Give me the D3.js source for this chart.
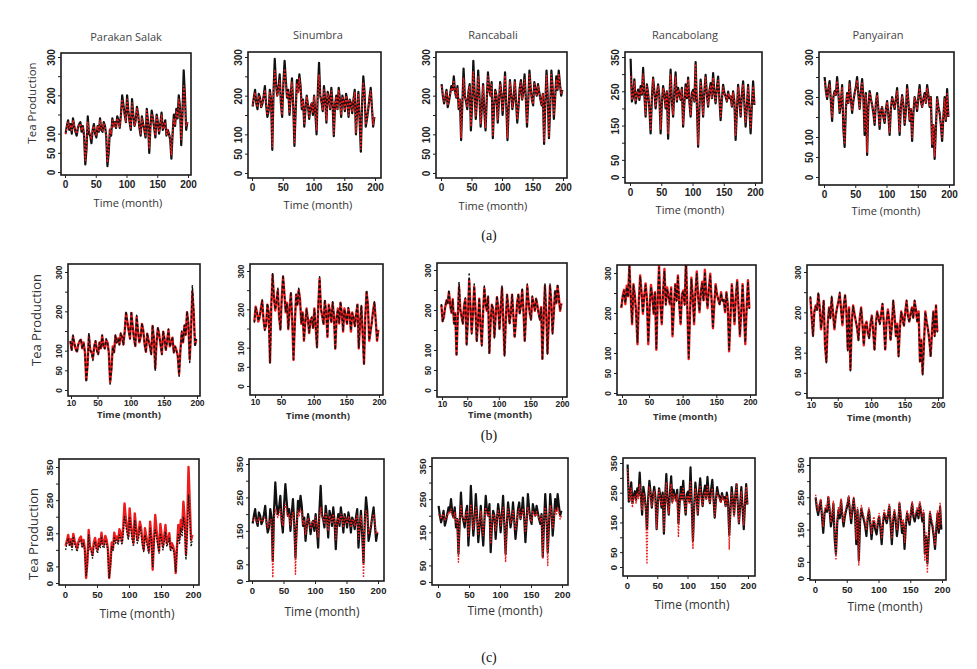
<!DOCTYPE html>
<html>
<head>
<meta charset="utf-8">
<script src="https://cdn.jsdelivr.net/npm/d3@7"></script>
<style>
  body { margin: 0; background: #fff; }
  svg { display: block; }
  .tick text { font-family: "Liberation Sans", Arial, sans-serif; font-weight: bold; fill: #222; }
  .tick line { stroke: #222; }
</style>
</head>
<body>
<div id="chart"></div>
<script>
// ---- data (one value every 2 months) ----
const sites = ['Parakan Salak', 'Sinumbra', 'Rancabali', 'Rancabolang', 'Panyairan'];
const rowLabels = ['(a)', '(b)', '(c)'];
const months = [1,3,5,7,9,11,13,15,17,19,21,23,25,27,29,31,33,35,37,39,41,43,45,47,49,51,53,55,57,59,61,63,65,67,69,71,73,75,77,79,81,83,85,87,89,91,93,95,97,99,101,103,105,107,109,111,113,115,117,119,121,123,125,127,129,131,133,135,137,139,141,143,145,147,149,151,153,155,157,159,161,163,165,167,169,171,173,175,177,179,181,183,185,187,189,191,193,195,197,199];
const xTicksAC = [0, 50, 100, 150, 200];
const xTicksB = [10, 50, 100, 150, 200];
const yTicks300 = [0, 50, 100, 150, 200, 250, 300];
const yLabels300 = [0, 50, 100, 200, 300];
const yTicks350 = [0, 50, 100, 150, 200, 250, 300, 350];
const yLabels350 = [0, 50, 150, 250, 350];

// actual tea production (black)
const psActual = [100,120,135,110,125,100,140,120,105,95, 115,125,130,105,120,95,20,60,145,100, 95,75,110,125,100,90,120,105,140,110, 105,130,120,95,15,50,110,95,140,120, 130,115,145,135,115,150,200,175,150,130, 200,160,130,110,190,150,120,135,170,150, 115,95,145,125,110,90,165,130,50,120, 160,140,115,90,150,130,100,125,155,110, 120,135,95,110,100,85,35,100,150,120, 165,140,200,170,70,150,265,200,110,130];
const snActual = [172,195,215,180,165,205,195,170,180,200, 225,175,145,160,215,190,60,210,295,230, 200,220,255,180,145,230,290,240,195,215, 150,200,245,175,70,160,240,210,255,225, 165,190,120,165,200,175,140,170,180,150, 200,155,100,210,285,200,185,160,225,190, 130,210,195,165,220,180,95,175,200,165, 220,190,145,200,185,160,205,185,145,190, 180,155,190,215,100,165,210,135,55,180, 250,210,120,140,165,195,220,170,120,145];
const rbActual = [230,200,180,195,215,170,185,205,225,215, 250,210,195,225,165,190,85,180,270,200, 185,165,210,230,110,175,290,210,140,190, 265,200,120,170,230,160,110,190,260,215, 200,235,90,170,215,200,130,185,235,205, 150,200,260,175,85,170,240,205,165,190, 240,185,130,170,220,240,190,210,255,195, 120,185,265,220,190,175,235,215,200,230, 210,190,175,205,75,180,265,195,90,170, 265,220,140,190,250,215,265,230,200,215];
const rgActual = [345,220,235,285,215,240,255,225,265,240, 318,240,176,270,244,200,127,230,290,250, 200,240,270,235,127,215,265,240,200,250, 112,230,313,220,176,250,305,220,260,240, 225,260,147,215,270,230,290,220,176,245, 254,220,335,210,88,200,284,240,176,250, 298,240,205,250,274,230,303,245,215,260, 293,230,166,225,269,245,235,220,249,230, 235,205,250,220,108,190,269,225,176,240, 279,215,147,205,269,200,127,210,279,210];
const pyActual = [250,215,195,220,240,190,140,200,215,205, 250,210,160,185,230,120,75,170,210,185, 240,195,160,190,210,225,250,205,170,215, 245,200,105,210,55,175,215,195,180,160, 130,185,210,170,120,165,175,150,135,170, 190,155,105,170,200,185,170,195,222,170, 105,175,205,180,130,165,230,190,140,170, 90,160,200,185,165,200,230,190,175,195, 210,185,230,205,175,200,75,130,45,120, 200,175,160,130,90,150,200,140,220,150];

// model output (red), row (a)
const psPredA = [98,118,130,115,122,105,135,122,108,100, 118,122,126,108,118,100,30,70,130,105, 100,85,112,120,104,95,118,108,135,112, 108,126,118,100,25,60,112,100,135,118, 128,118,140,132,118,145,190,170,148,132, 190,158,132,115,180,148,122,132,165,148, 118,100,140,122,112,95,160,128,60,118, 152,138,118,95,145,128,104,122,150,112, 118,130,98,110,102,90,45,105,140,122, 160,140,190,165,85,150,225,195,120,128];
const snPredA = [175,192,208,182,170,200,192,172,182,198, 215,178,150,165,208,188,68,205,265,225, 198,215,240,182,150,225,270,232,195,212, 155,198,235,178,78,165,232,208,245,220, 168,188,125,168,198,176,145,170,180,155, 198,158,110,205,255,198,183,162,215,188, 135,205,193,168,212,180,100,176,198,166, 215,188,150,198,183,162,200,184,150,188, 178,158,188,208,105,166,205,140,62,178, 235,205,125,145,168,192,212,170,125,148];
const rbPredA = [225,202,185,195,210,175,188,203,220,212, 240,208,197,220,170,190,92,182,245,202, 188,170,208,225,120,178,262,208,148,190, 248,200,128,172,225,165,118,190,250,212, 202,228,98,172,210,200,138,186,230,205, 158,200,252,178,92,172,235,205,170,190, 235,188,138,172,215,235,192,208,242,198, 128,186,255,218,190,178,230,214,202,226, 208,190,178,204,82,180,252,196,96,172, 255,218,148,190,242,215,255,228,205,212];
const rgPredA = [295,225,240,280,220,242,250,228,260,242, 300,238,182,265,242,205,135,232,285,248, 205,238,265,235,138,218,258,238,205,248, 125,230,298,222,182,248,292,222,255,240, 228,255,152,218,265,232,285,222,180,242, 250,222,330,212,95,205,275,238,182,248, 290,238,210,248,268,232,290,242,220,258, 282,230,172,228,262,242,238,222,245,232, 238,208,245,222,120,195,262,225,180,238, 270,218,160,208,262,205,140,212,265,212];
const pyPredA = [240,212,198,218,232,192,148,200,212,205, 240,208,165,186,225,125,82,172,208,186, 232,196,165,190,208,222,242,205,172,212, 238,200,112,205,62,176,212,195,180,162, 136,185,205,170,126,166,175,152,140,170, 188,158,112,172,198,185,172,195,215,172, 112,176,202,180,136,166,222,190,145,170, 98,162,198,185,168,198,222,190,176,195, 205,186,222,204,176,198,82,132,52,122, 195,175,160,132,98,152,195,142,208,152];

// model output (red), row (b)
const psPredB = [102,122,133,112,124,102,137,118,104,98, 116,124,128,106,121,97,25,65,138,102, 97,80,111,124,102,92,121,106,138,111, 106,128,121,97,20,55,111,97,138,121, 131,116,143,133,116,148,196,173,151,131, 196,162,131,112,186,151,121,134,168,151, 116,97,143,126,111,92,163,131,55,121, 157,141,116,92,148,131,102,126,153,111, 121,133,96,111,101,87,40,102,146,121, 163,141,198,168,78,151,250,198,115,129];
const snPredB = [170,197,212,178,168,207,193,168,178,202, 222,173,148,158,212,192,62,212,290,232, 197,222,250,178,148,232,285,242,192,217, 148,202,242,172,68,162,237,212,250,227, 162,192,118,167,202,173,138,172,178,152, 202,153,102,212,280,202,182,162,222,192, 128,212,192,167,217,182,97,177,202,163, 217,192,142,202,182,162,202,187,142,192, 177,157,187,212,98,167,207,137,58,182, 245,212,118,142,167,197,217,172,118,147];
const rbPredB = [232,198,182,197,213,172,183,207,223,217, 245,212,193,227,167,192,88,182,258,202, 183,167,212,228,115,177,275,212,143,192, 258,202,123,172,228,162,113,192,255,217, 198,232,93,172,213,202,133,187,232,207, 153,202,256,177,88,172,238,207,167,192, 238,187,133,172,218,238,192,212,250,197, 123,187,260,222,192,177,232,217,198,228, 212,192,177,207,78,182,260,197,92,172, 260,222,143,192,246,217,260,232,198,217];
const rgPredB = [310,222,238,290,212,242,258,222,268,242, 320,238,172,272,246,198,122,232,294,252, 198,242,274,236,122,212,270,242,198,252, 108,232,318,222,172,252,310,222,264,242, 222,264,142,212,272,232,294,222,172,247, 256,222,338,212,85,198,288,242,172,252, 304,242,202,252,278,232,308,247,212,262, 298,232,162,222,272,247,232,222,252,232, 232,202,252,222,104,187,272,227,172,242, 282,212,142,202,272,198,122,212,282,212];
const pyPredB = [245,217,193,222,237,188,143,202,217,207, 245,212,158,187,228,118,78,172,212,187, 236,197,158,192,212,227,246,207,168,217, 242,202,108,212,58,177,217,197,178,162, 132,187,212,172,118,167,177,148,137,172, 192,153,108,172,202,187,172,197,220,172, 108,177,207,182,132,167,228,192,142,172, 92,162,202,187,167,202,228,192,177,197, 212,187,228,207,177,202,78,132,48,122, 202,177,158,132,92,152,202,142,217,152];

// model output (red), row (c)
const psPredC = [112,128,145,118,132,110,148,128,115,104, 125,135,140,112,130,104,15,65,160,110, 104,85,122,136,110,100,132,115,152,120, 115,142,130,104,15,58,122,104,152,130, 140,125,162,150,125,170,240,195,165,140, 225,178,145,120,210,170,130,150,185,165, 125,100,165,140,120,96,185,140,40,130, 205,160,125,96,178,145,110,140,175,120, 130,150,104,120,110,92,30,110,175,135, 190,160,245,195,85,180,350,240,130,145];
const snPredC = [180,185,190,178,175,190,185,178,180,188, 190,176,160,168,185,182,10,180,215,200, 190,200,215,185,165,205,230,210,190,200, 165,188,205,180,20,170,210,195,215,205, 170,182,140,170,188,178,155,175,180,165, 190,165,130,190,220,192,185,170,205,185, 150,195,190,172,200,182,120,180,190,175, 200,188,160,192,185,172,192,185,160,185, 180,165,185,195,125,170,195,150,10,180, 210,195,140,155,170,188,200,178,140,150];
const rbPredC = [205,198,190,200,205,185,192,200,210,205, 220,200,195,210,180,192,60,188,230,200, 190,180,205,215,135,185,235,205,160,192, 225,198,145,180,215,175,140,192,225,205, 198,215,115,180,205,198,155,190,215,200, 170,198,225,185,60,180,220,200,178,192, 215,190,155,180,210,220,192,205,222,195, 150,190,225,208,190,182,215,205,198,212, 200,192,185,200,70,188,225,195,50,182, 230,210,160,192,220,205,225,212,190,200];
const rgPredC = [330,250,220,265,200,235,240,215,250,230, 280,225,190,250,235,205,10,215,270,240, 205,230,255,225,130,210,260,230,205,240, 120,220,285,215,180,240,280,215,245,235, 220,245,100,210,250,225,265,215,180,235, 240,215,290,205,60,195,265,230,180,240, 270,230,205,240,255,225,275,235,215,245, 265,225,170,220,250,235,230,215,240,225, 230,205,240,215,60,190,250,220,170,235, 280,215,150,205,255,200,140,215,270,210];
const pyPredC = [258,222,208,230,245,202,158,212,225,214, 255,220,172,198,238,138,55,182,220,198, 245,205,172,200,220,232,255,214,182,225, 250,210,118,218,40,188,225,205,190,172, 148,195,218,182,138,178,190,162,152,182, 200,168,122,182,210,195,182,205,232,182, 122,188,215,195,148,178,238,200,158,182, 108,172,210,195,178,210,238,200,190,205, 220,195,238,215,190,210,55,140,15,130, 210,190,172,142,100,162,210,152,232,162];

const actuals = [psActual, snActual, rbActual, rgActual, pyActual];
const preds = [
  [psPredA, snPredA, rbPredA, rgPredA, pyPredA],
  [psPredB, snPredB, rbPredB, rgPredB, pyPredB],
  [psPredC, snPredC, rbPredC, rgPredC, pyPredC]
];

// ---- layout (pixels in the 977x669 picture) ----
// box: [x0, y0, x1, y1]; xr: pixel of first tick and of 200; yr: pixel of 0 and of yTop
const panelBoxes = [
  [
    {box: [61, 53, 191, 175],  xr: [65, 188],  yr: [172, 57], yTop: 300},
    {box: [248, 52, 381, 178], xr: [252, 375], yr: [173, 57], yTop: 300},
    {box: [436, 52, 567, 178], xr: [441, 563], yr: [173, 57], yTop: 300},
    {box: [625, 52, 762, 183], xr: [630, 755], yr: [177, 57], yTop: 350},
    {box: [819, 52, 954, 185], xr: [824, 949], yr: [177, 57], yTop: 300}
  ],
  [
    {box: [68, 264, 200, 396],  xr: [71, 197],  yr: [390, 272], yTop: 300},
    {box: [250, 264, 383, 395], xr: [255, 379], yr: [386, 271], yTop: 300},
    {box: [437, 263, 567, 397], xr: [442, 562], yr: [390, 270], yTop: 300},
    {box: [617, 265, 756, 395], xr: [622, 750], yr: [393, 273], yTop: 300},
    {box: [807, 265, 943, 398], xr: [811, 938], yr: [393, 272], yTop: 300}
  ],
  [
    {box: [59, 459, 199, 585],  xr: [65, 193],  yr: [583, 467], yTop: 350},
    {box: [249, 459, 384, 581], xr: [252, 378], yr: [581, 464], yTop: 350},
    {box: [432, 458, 568, 585], xr: [438, 562], yr: [582, 466], yTop: 350},
    {box: [623, 458, 755, 576], xr: [627, 748], yr: [567, 463], yTop: 350},
    {box: [810, 458, 946, 580], xr: [815, 942], yr: [578, 465], yTop: 350}
  ]
];
const titlePos = [[126, 41], [318, 39], [493, 39], [685, 39], [878, 39]];
const timePos = [
  [[128, 207], [318, 209], [493, 210], [690, 214], [886, 215]],
  [[129, 418], [318, 419], [500, 418], [685, 420], [879, 421]],
  [[137, 618], [322, 616], [505, 615], [692, 609], [885, 611]]
];
const yTitlePos = [[32, 103, 11.5], [36, 320, 13], [33, 534, 13]];
const rowLabelPos = [[489, 240], [489, 440], [489, 662]];
const tickFont = [10, 8.5, 9.5];

const BLACK = '#111';
const RED = '#ec1c1c';
// line styles per row: drawn in order (first = underneath)
const rowStyles = [
  [{s: 'actual', c: BLACK, w: 2.2, d: null}, {s: 'pred', c: RED, w: 1.5, d: '2,1.6'}],
  [{s: 'pred', c: RED, w: 2.4, d: null}, {s: 'actual', c: BLACK, w: 1.5, d: '3,2'}],
  [{s: 'actual', c: BLACK, w: 2.2, d: null}, {s: 'pred', c: RED, w: 1.4, d: '1.6,1.4'}]
];
const firstColC = [{s: 'pred', c: RED, w: 2.4, d: null}, {s: 'actual', c: BLACK, w: 1.4, d: '1.5,1.5'}];

const svg = d3.select('#chart').append('svg')
  .attr('width', 977)
  .attr('height', 669);

function drawPanel(row, col) {
  const p = panelBoxes[row][col];
  const [bx0, by0, bx1, by1] = p.box;
  const xTicks = row === 1 ? xTicksB : xTicksAC;
  const xScale = d3.scaleLinear().domain([xTicks[0], 200]).range(p.xr);
  const yScale = d3.scaleLinear().domain([0, p.yTop]).range(p.yr);

  const clipId = `clip-${row}-${col}`;
  svg.append('clipPath').attr('id', clipId)
    .append('rect')
    .attr('x', bx0).attr('y', by0)
    .attr('width', bx1 - bx0).attr('height', by1 - by0);

  // row (b) starts at month 9
  const toPoints = arr => months
    .map((m, i) => ({month: m, value: arr[i]}))
    .filter(d => d.month >= xTicks[0] - 1);

  const lineGenerator = d3.line()
    .x(d => xScale(d.month))
    .y(d => yScale(d.value));

  const styles = (row === 2 && col === 0) ? firstColC : rowStyles[row];
  const lines = svg.append('g').attr('clip-path', `url(#${clipId})`);
  styles.forEach(st => {
    const data = st.s === 'actual' ? actuals[col] : preds[row][col];
    lines.append('path')
      .datum(toPoints(data))
      .attr('fill', 'none')
      .attr('stroke', st.c)
      .attr('stroke-width', st.w)
      .attr('stroke-linejoin', 'round')
      .attr('stroke-dasharray', st.d)
      .attr('d', lineGenerator);
  });

  // axes
  const fs = tickFont[row];
  const yTicks = p.yTop === 350 ? yTicks350 : yTicks300;
  const yLabels = p.yTop === 350 ? yLabels350 : yLabels300;
  const yAxis = d3.axisLeft(yScale)
    .tickValues(yTicks)
    .tickSize(3)
    .tickFormat(v => yLabels.includes(v) ? v : '');
  const yAxisGroup = svg.append('g')
    .attr('transform', `translate(${bx0}, 0)`)
    .call(yAxis);
  yAxisGroup.select('.domain').remove();
  yAxisGroup.selectAll('.tick text')
    .attr('x', null).attr('dy', null)
    .attr('text-anchor', 'middle')
    .attr('transform', 'translate(-6, 0) rotate(-90)')
    .style('font-size', fs + 'px');

  const xAxis = d3.axisBottom(xScale)
    .tickValues(xTicks)
    .tickSize(3)
    .tickPadding(row === 1 ? 1 : 3);
  const xAxisGroup = svg.append('g')
    .attr('transform', `translate(0, ${by1})`)
    .call(xAxis);
  xAxisGroup.select('.domain').remove();
  xAxisGroup.selectAll('.tick text').style('font-size', fs + 'px');

  // frame
  svg.append('rect')
    .attr('x', bx0).attr('y', by0)
    .attr('width', bx1 - bx0).attr('height', by1 - by0)
    .attr('fill', 'none')
    .attr('stroke', '#1a1a1a')
    .attr('stroke-width', 1.6);

  // x title
  const [tx, ty] = timePos[row][col];
  svg.append('text')
    .attr('x', tx).attr('y', ty)
    .attr('text-anchor', 'middle')
    .attr('font-family', '"Open Sans", sans-serif')
    .attr('font-size', row === 1 ? 9.5 : (row === 2 ? 12 : 11))
    .attr('font-weight', row === 1 ? 'bold' : 'normal')
    .attr('fill', '#333')
    .text('Time (month)');
}

for (let row = 0; row < 3; row++) {
  for (let col = 0; col < 5; col++) drawPanel(row, col);

  const [lx, ly, lfs] = yTitlePos[row];
  svg.append('text')
    .attr('transform', `translate(${lx}, ${ly}) rotate(-90)`)
    .attr('text-anchor', 'middle')
    .attr('dy', '0.35em')
    .attr('font-family', '"Open Sans", sans-serif')
    .attr('font-size', lfs)
    .attr('fill', '#333')
    .text('Tea Production');

  svg.append('text')
    .attr('x', rowLabelPos[row][0]).attr('y', rowLabelPos[row][1])
    .attr('text-anchor', 'middle')
    .attr('font-family', '"Liberation Serif", "Times New Roman", serif')
    .attr('font-size', 14)
    .attr('fill', '#111')
    .text(rowLabels[row]);
}

// site titles above the first row
sites.forEach((name, i) => {
  svg.append('text')
    .attr('x', titlePos[i][0]).attr('y', titlePos[i][1])
    .attr('text-anchor', 'middle')
    .attr('font-family', '"Open Sans", sans-serif')
    .attr('font-size', 11)
    .attr('fill', '#444')
    .text(name);
});
</script>
</body>
</html>
